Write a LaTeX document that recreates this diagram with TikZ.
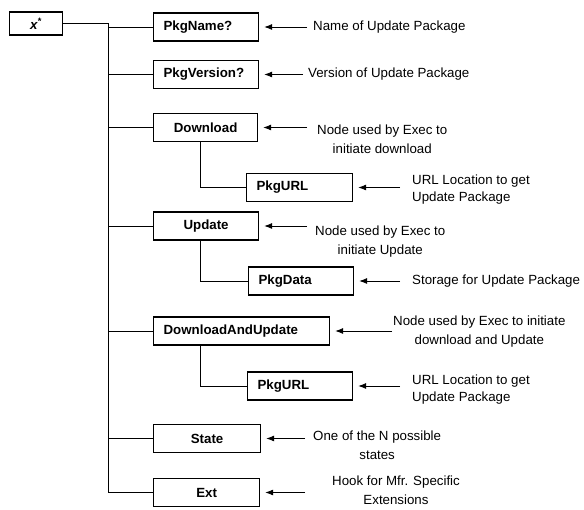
\documentclass[tikz,border=0pt]{standalone}
\usepackage{fontspec}
\setmainfont{Liberation Sans}
\usetikzlibrary{arrows.meta}

\begin{document}
\begin{tikzpicture}[x=1pt,y=-1pt,
    box/.style={draw, line width=1.2pt, font=\fontsize{13.3}{16}\selectfont\bfseries,
      minimum height=28pt, inner ysep=0pt, anchor=west},
    lbox/.style={box, align=left, inner xsep=10pt, text width=#1},
    cbox/.style={box, minimum width=#1},
    note/.style={font=\fontsize{13.3}{19}\selectfont, anchor=west, inner sep=0pt},
    branch/.style={line width=0.8pt},
    pointer/.style={line width=0.8pt, -{Latex[length=8pt,width=6pt]},
      shorten >=5pt, shorten <=#1}]
\useasboundingbox (0,0) rectangle (584,510);

\node[box, minimum width=53pt, minimum height=23pt] (xstar) at (9,23.5) {\textit{x}\textsuperscript{*}};

\node[lbox=85pt] (name) at (153,27) {PkgName?};
\node[lbox=85pt] (version) at (153,74.5) {PkgVersion?};
\node[cbox=104pt] (download) at (153,127.5) {Download};
\node[lbox=86pt] (url) at (246,187.5) {PkgURL};
\node[cbox=105pt] (update) at (153,226) {Update};
\node[lbox=85pt] (data) at (248,281) {PkgData};
\node[lbox=156pt] (dlupdate) at (153,331) {DownloadAndUpdate};
\node[lbox=85pt] (url2) at (247,386) {PkgURL};
\node[cbox=107pt] (state) at (153,438.5) {State};
\node[cbox=106pt] (ext) at (153,492.5) {Ext};

\node[note] (n1) at (313,27) {Name of Update Package};
\node[note] (n2) at (308,74.5) {Version of Update Package};
\node[note, align=center] (n3) at (317,139.5) {Node used by Exec to\\initiate download};
\node[note, align=left, font=\fontsize{13.3}{17}\selectfont] (n4) at (412,190) {URL Location to get\\Update Package};
\node[note, align=center] (n5) at (315,242) {Node used by Exec to\\initiate Update};
\node[note] (n6) at (412,281) {Storage for Update Package};
\node[note, align=center] (n7) at (393,331.5) {Node used by Exec to initiate\\download and Update};
\node[note, align=left, font=\fontsize{13.3}{17}\selectfont] (n8) at (412,390) {URL Location to get\\Update Package};
\node[note, align=center] (n9) at (313,445) {One of the N possible\\states};
\node[note, align=center] (n10) at (332,490) {Hook for Mfr. Specific\\Extensions};

% tree lines
\coordinate (trunk) at (108,23.5);
\coordinate (sub) at (200,0);
\draw[branch] (xstar.east) -- (trunk) -- (trunk |- ext.west);
\foreach \n in {name,version,download,update,dlupdate,state,ext}
  \draw[branch] (trunk |- \n.west) -- (\n.west);
\draw[branch] (sub |- download.south) |- (url.west);
\draw[branch] (sub |- update.south) |- (data.west);
\draw[branch] (sub |- dlupdate.south) |- (url2.west);

% pointers from the notes
\foreach \b/\n/\g in {name/n1/6, version/n2/5, download/n3/10, url/n4/12, update/n5/8,
    data/n6/12, dlupdate/n7/1, url2/n8/12, state/n9/8, ext/n10/27}
  \draw[pointer=\g pt] (\b.east -| \n.west) -- (\b.east);
\end{tikzpicture}
\end{document}
